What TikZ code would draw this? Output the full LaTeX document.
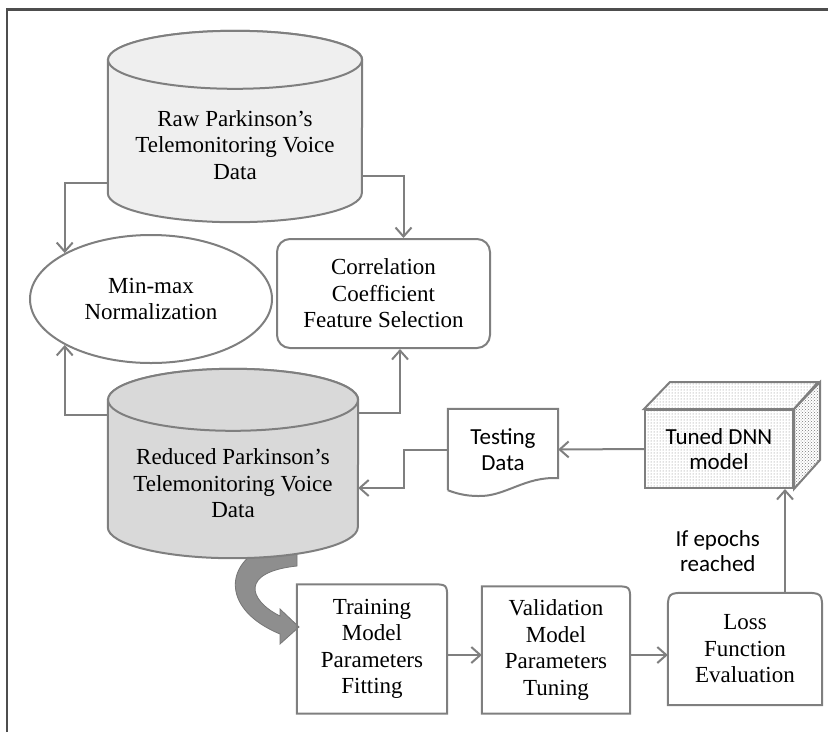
\documentclass[tikz,border=0pt]{standalone}
\usepackage{fontspec}
\setmainfont{Liberation Serif}
\newfontfamily\calib{Carlito}
\usetikzlibrary{shapes.geometric}
\usetikzlibrary{arrows.meta}
\usetikzlibrary{patterns}
\definecolor{linegray}{HTML}{7F7F7F}
\definecolor{rawfill}{HTML}{EFEFEF}
\definecolor{redfill}{HTML}{D9D9D9}
\definecolor{arrowfill}{HTML}{8E8E8E}
\definecolor{arrowedge}{HTML}{767676}
\definecolor{framegray}{HTML}{4D4D4D}
\definecolor{dotgray}{HTML}{7A7A7A}

\begin{document}
\begin{tikzpicture}
	[x=1pt, y=-1pt,
	 line/.style={draw=linegray, line width=2pt},
	 conn/.style={line, -{Straight Barb[length=9pt,width=16pt]}},
	 txt/.style={align=center, inner sep=0pt, font=\fontsize{23}{26.5}\selectfont},
	 sanstxt/.style={align=center, inner sep=0pt, font=\calib\fontsize{23}{25.5}\selectfont},
	 dbbody/.style={inner sep=0pt, minimum width=#1}]
	
	\useasboundingbox (0,0) rectangle (828,732);
	\draw[framegray, line width=2.2pt] (7,732) -- (7,9.5) -- (828,9.5);
	
	% cylinder bodies
	\node[dbbody=254pt, minimum height=133pt] (raw) at (235,126.5) {};
	\node[dbbody=250pt, minimum height=127pt] (red) at (233,463.5) {};
	
	% curved arrow under the reduced data
	\filldraw[fill=arrowfill, draw=arrowedge, line width=0.8pt] (263,548) .. controls (225,565) and (222,610) .. (280,634) -- (280,644) -- (299,627) -- (280,609) -- (280,616) .. controls (248,600) and (240,572) .. (297,566) -- (297,548) -- cycle;
	
	\filldraw[line, fill=rawfill] (raw.north west) -- (raw.south west) arc[start angle=180, end angle=360, x radius=127pt, y radius=29pt] -- (raw.north east) arc[start angle=0, end angle=180, x radius=127pt, y radius=29pt] -- cycle;
	\filldraw[line, fill=rawfill] (raw.north) ellipse[x radius=127pt, y radius=29pt];
	\filldraw[line, fill=redfill] (red.north west) -- (red.south west) arc[start angle=180, end angle=360, x radius=125pt, y radius=31pt] -- (red.north east) arc[start angle=0, end angle=180, x radius=125pt, y radius=31pt] -- cycle;
	\filldraw[line, fill=redfill] (red.north) ellipse[x radius=125pt, y radius=31pt];
	
	\node[txt] (rawtxt) at ([yshift=-18.5pt]raw.center) {Raw Parkinson's\\Telemonitoring Voice\\Data};
	\node[txt] (redtxt) at ([yshift=-20pt]red.center) {Reduced Parkinson's\\Telemonitoring Voice\\Data};
	
	\node[txt, ellipse, line, minimum width=242pt, minimum height=128pt] (mm) at (151,299) {Min-max\\Normalization};
	\node[txt, rectangle, rounded corners=13pt, line, minimum width=213pt, minimum height=109pt] (corr) at (383.5,293.5) {Correlation\\Coefficient\\Feature Selection};
	
	\draw[conn] ([yshift=10pt]raw.south west) -| (mm.north west);
	\draw[conn] ([yshift=17pt]raw.south east) -| ([xshift=20pt]corr.north);
	\draw[conn] ([yshift=-15pt]red.north west) -| (mm.south west);
	\draw[conn] ([yshift=-13pt]red.north east) -| ([xshift=16.5pt]corr.south);
	
	% testing data and tuned model
	\node[sanstxt, minimum width=110pt, minimum height=81pt] (test) at (503,449.5) {Testing\\Data};
	\draw[line] (test.south west) -- (test.north west) -- (test.north east) -- ([yshift=12pt]test.south east) .. controls (525,476) and (505,497) .. (478,496) .. controls (465,496) and (455,493) .. (test.south west);
	
	\node[sanstxt, line, preaction={fill=white}, pattern=dots, pattern color=dotgray, minimum width=148pt, minimum height=78pt] (dnn) at (719,449) {Tuned DNN\\model};
	\draw[line, pattern=dots, pattern color=dotgray] (dnn.north west) -- ++(26,-27) -- ++(148,0) -- (dnn.north east) -- cycle;
	\draw[line, pattern=crosshatch dots, pattern color=dotgray] (dnn.north east) -- ++(26,-27) -- ++(0,78) -- (dnn.south east) -- cycle;
	
	\draw[conn] (dnn.west) -- (test.east);
	\draw[conn] (test.west) -- ++(-44,0) |- ([yshift=-24.5pt]red.east);
	
	% training loop
	\node[txt, minimum width=150pt, minimum height=129pt] (train) at (372,649) {Training\\Model\\Parameters\\Fitting};
	\node[txt, minimum width=148pt, minimum height=127pt] (val) at (556,650) {Validation\\Model\\Parameters\\Tuning};
	\node[txt, minimum width=154pt, minimum height=112pt] (loss) at (745,649) {Loss\\Function\\Evaluation};
	
	\draw[line] (train.south west) -- (train.north west) -- ([xshift=-16pt]train.north east) .. controls (train.north east) .. ([yshift=-16pt]train.north east) -- (train.south east) -- cycle;
	\draw[line] (val.south west) -- (val.north west) -- ([xshift=-16pt]val.north east) .. controls (val.north east) .. ([yshift=-16pt]val.north east) -- (val.south east) -- cycle;
	\draw[line] (loss.south west) -- ([yshift=-20pt]loss.north west) .. controls (loss.north west) .. ([xshift=20pt]loss.north west) -- ([xshift=-20pt]loss.north east) .. controls (loss.north east) .. ([yshift=-20pt]loss.north east) -- (loss.south east) -- cycle;
	
	\draw[conn] ([yshift=-6pt]train.east) -- ([yshift=-6pt]train.east -| val.west);
	\draw[conn] ([yshift=-5pt]val.east) -- ([yshift=-5pt]val.east -| loss.west);
	\draw[conn] ([xshift=40pt]loss.north) -- ([xshift=40pt]loss.north |- dnn.south) node[pos=0.4, left=24pt, sanstxt] {If epochs\\reached};
\end{tikzpicture}
\end{document}
